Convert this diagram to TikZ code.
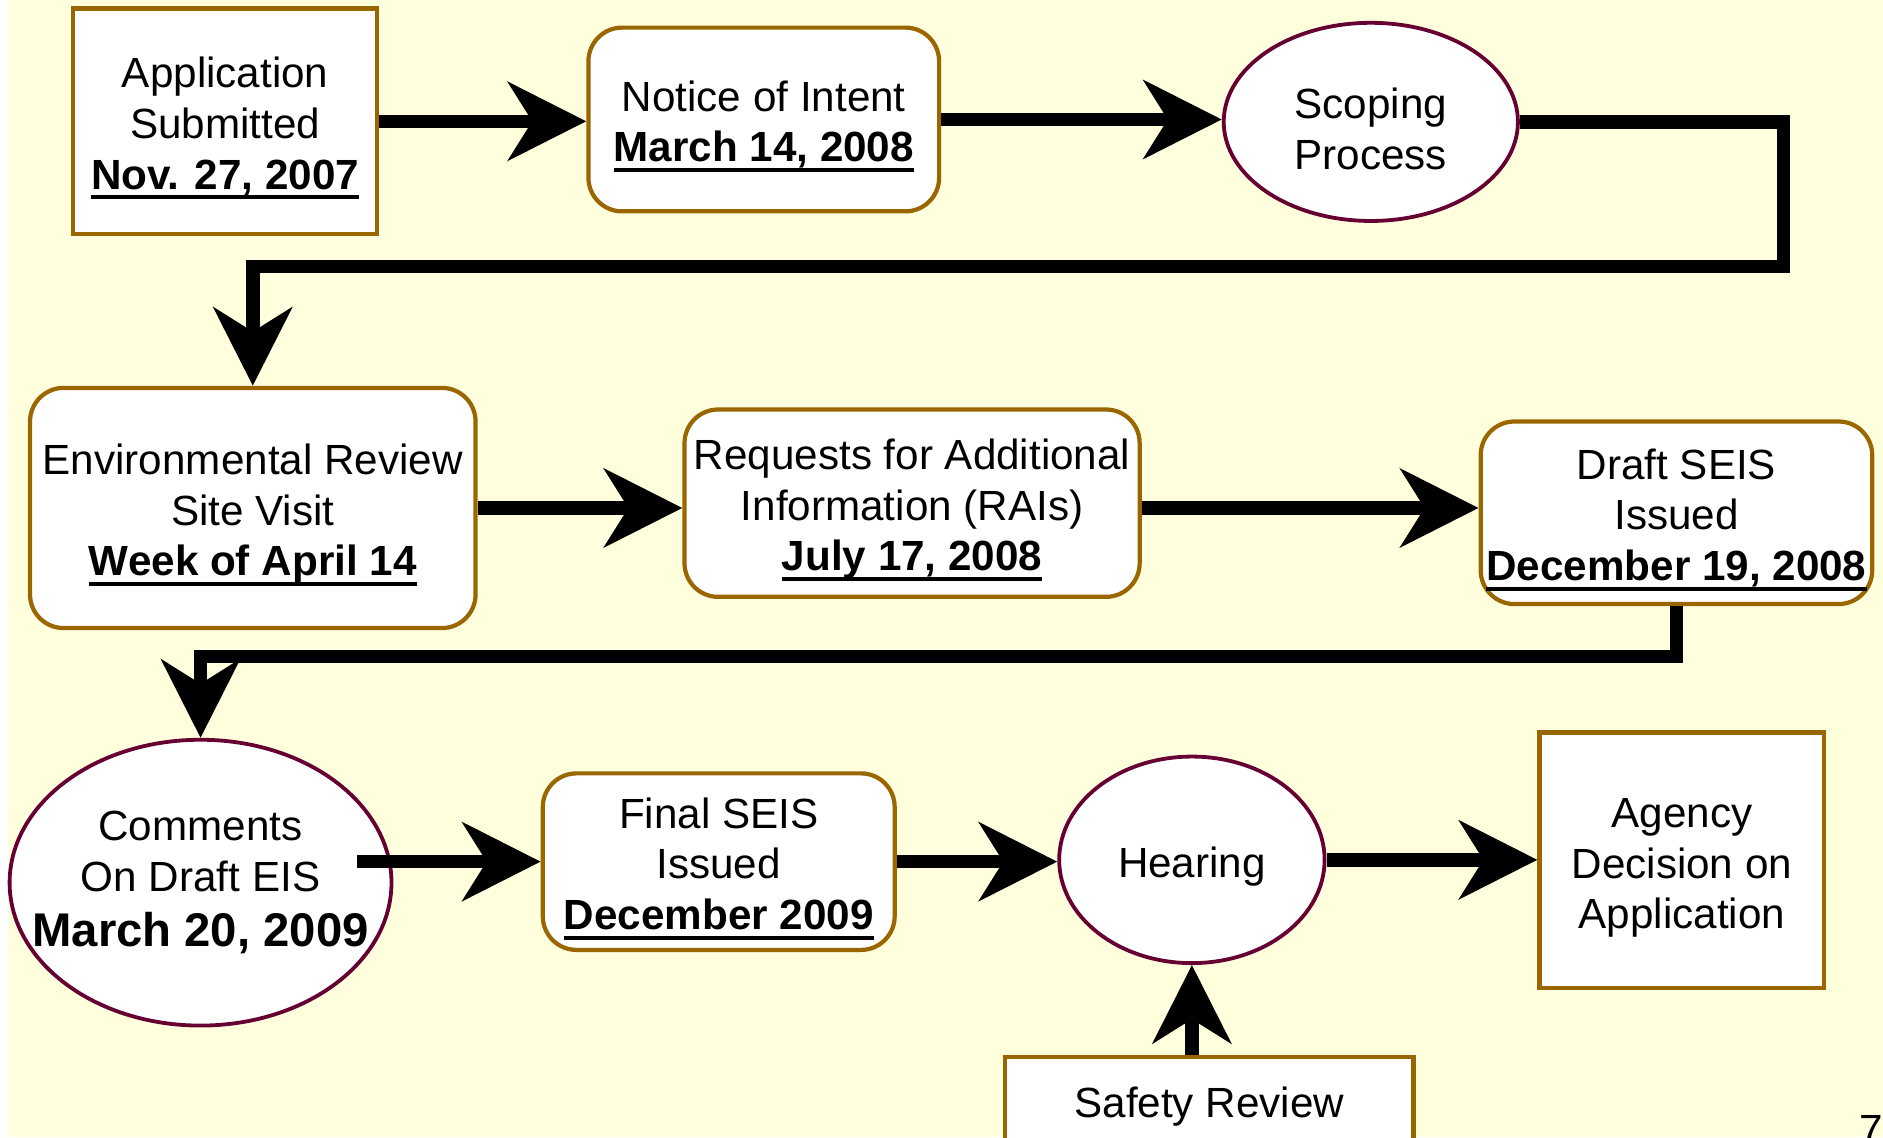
\documentclass[tikz,border=0pt]{standalone}
\usepackage{fontspec}
\setmainfont{Liberation Sans}
\usetikzlibrary{arrows.meta,shapes.geometric,calc}
\definecolor{slidebg}{HTML}{FFFFDD}
\definecolor{boxedge}{HTML}{996600}
\definecolor{ovaledge}{HTML}{660033}
\newcommand{\dateline}[1]{\setbox0\hbox{\bfseries #1}\leavevmode\rlap{\rule[-2.4pt]{\wd0}{0.9pt}}\box0}
\newcommand{\tallstrut}{\rule{0pt}{10.5pt}}

\begin{document}
\begin{tikzpicture}[font=\fontsize{10}{12}\selectfont,
  sqbox/.style={draw=boxedge, line width=1pt, fill=white, align=center, inner sep=0pt},
  rndbox/.style={sqbox, rounded corners=0.28cm},
  ovalnode/.style={ellipse, draw=ovaledge, line width=0.9pt, fill=white, align=center, inner sep=0pt},
  flowarrow/.style={line width=3.2pt, -{Stealth[length=6.5mm,width=6.5mm,inset=2mm]}}]

\path[use as bounding box] (0,0) rectangle (15.68,-9.47);
\clip (0,0) rectangle (15.68,-9.47);
\fill[white] (0,0) rectangle (0.07,-9.47);
\fill[slidebg] (0.07,0) rectangle (15.68,-9.47);

% first row
\node[sqbox, minimum width=2.53cm, minimum height=1.88cm] (app) at (1.875,-1.01)
  {\tallstrut Application\\Submitted\\\dateline{Nov. 27, 2007}};
\node[rndbox, minimum width=2.92cm, minimum height=1.53cm] (notice) at (6.36,-0.995)
  {\tallstrut Notice of Intent\\\dateline{March 14, 2008}};
\node[ovalnode, minimum width=2.45cm, minimum height=1.65cm] (scope) at (11.415,-1.015)
  {\tallstrut Scoping\\Process};

% second row
\node[rndbox, minimum width=3.71cm, minimum height=2.00cm] (env) at (2.105,-4.23)
  {\tallstrut Environmental Review\\Site Visit\\\dateline{Week of April 14}};
\node[rndbox, minimum width=3.79cm, minimum height=1.56cm] (rai) at (7.595,-4.19)
  {\tallstrut Requests for Additional\\Information (RAIs)\\\dateline{July 17, 2008}};
\node[rndbox, minimum width=3.26cm, minimum height=1.52cm] (draft) at (13.96,-4.27)
  {\tallstrut Draft SEIS\\Issued\\\dateline{December 19, 2008}};

% third row
\node[ovalnode, inner xsep=-6mm, minimum width=3.18cm, minimum height=2.38cm] (comm) at (1.67,-7.35)
  {Comments\\On Draft EIS\\[1pt]{\fontsize{11.2}{13.5}\selectfont\bfseries March 20, 2009}};
\node[rndbox, minimum width=2.93cm, minimum height=1.47cm] (final) at (5.985,-7.175)
  {\tallstrut Final SEIS\\Issued\\\dateline{December 2009}};
\node[ovalnode, minimum width=2.21cm, minimum height=1.72cm] (hear) at (9.925,-7.16) {\tallstrut Hearing};
\node[sqbox, minimum width=2.37cm, minimum height=2.13cm] (agency) at (14.005,-7.165)
  {\tallstrut Agency\\Decision on\\Application};
\node[sqbox, minimum width=3.40cm, minimum height=0.72cm] (safety) at (10.07,-9.16) {\tallstrut Safety Review};

\node[anchor=base west, inner sep=0pt] (pagenum) at (15.48,-9.53) {7};

\coordinate (sc2) at (14.85,-2.22);

\draw[flowarrow] (app.east) -- (app.east -| notice.west);
\draw[flowarrow] (notice.east) -- (notice.east -| scope.west);
\draw[flowarrow] (scope.east) -| (sc2) -| (env.north);
\draw[flowarrow] (env.east) -- (env.east -| rai.west);
\draw[flowarrow] (rai.east |- env.east) -- (env.east -| draft.west);
\draw[flowarrow] (draft.south) -- ++(0,-0.42) -| (comm.north);
\draw[flowarrow] ([xshift=-3mm]comm.east |- final.west) -- (final.west);
\draw[flowarrow] (final.east) -- (final.east -| hear.west);
\draw[flowarrow] (hear.east) -- (hear.east -| agency.west);
\draw[flowarrow] (safety.north -| hear.south) -- (hear.south);

\end{tikzpicture}
\end{document}
